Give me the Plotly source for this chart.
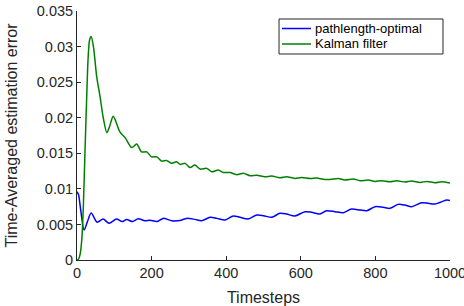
import plotly.graph_objects as go

# ---- data ----
t_blue = [0, 4, 10, 19, 28, 38, 54, 70, 86, 106, 121, 133, 149, 164, 182, 196, 214, 231,
          254, 276, 294, 316, 334, 357, 375, 397, 419, 437, 459, 482, 500, 522, 544, 562,
          584, 611, 629, 651, 669, 692, 714, 736, 759, 777, 799, 821, 839, 861, 879, 897,
          924, 942, 960, 991, 1000]
v_blue = [0.0096, 0.0092, 0.0070, 0.0042, 0.0054, 0.0066, 0.0053, 0.00576, 0.00515, 0.00576,
          0.0054, 0.0057, 0.0054, 0.0058, 0.00552, 0.0056, 0.0054, 0.00585, 0.00552, 0.00556,
          0.00585, 0.00571, 0.00552, 0.0060, 0.00585, 0.00562, 0.00618, 0.0060, 0.00576,
          0.00632, 0.00623, 0.0060, 0.00656, 0.00646, 0.00618, 0.00679, 0.0067, 0.00648,
          0.00693, 0.00679, 0.00665, 0.00716, 0.00702, 0.00693, 0.00749, 0.0074, 0.00726,
          0.00782, 0.00772, 0.00749, 0.00805, 0.00796, 0.00786, 0.00843, 0.00836]

t_green = [0, 5, 9, 13, 17, 21, 26, 30, 34, 38, 44, 53, 62, 70, 80, 87, 97, 106, 115, 129,
           147, 160, 173, 187, 200, 214, 227, 240, 254, 267, 276, 290, 303, 316, 330, 348,
           361, 379, 392, 410, 428, 446, 464, 482, 504, 522, 544, 562, 584, 602, 625, 643,
           660, 678, 701, 718, 741, 759, 781, 799, 817, 839, 857, 879, 897, 920, 938, 960,
           978, 1000]
v_green = [0.0, 0.0002, 0.0010, 0.0030, 0.0075, 0.0145, 0.0229, 0.0286, 0.0310, 0.0314,
           0.0300, 0.0257, 0.0229, 0.0201, 0.0179, 0.0187, 0.0202, 0.0192, 0.0180, 0.0172,
           0.0158, 0.0163, 0.0152, 0.0152, 0.0145, 0.0145, 0.0139, 0.0140, 0.0136, 0.0138,
           0.01344, 0.01358, 0.0130, 0.01334, 0.01278, 0.01288, 0.0124, 0.01264, 0.0123,
           0.0123, 0.0120, 0.0122, 0.01184, 0.0119, 0.0117, 0.0118, 0.01156, 0.0117, 0.01147,
           0.0116, 0.01145, 0.01152, 0.01136, 0.01133, 0.01147, 0.01124, 0.01138, 0.01114,
           0.01124, 0.01105, 0.01114, 0.0110, 0.01114, 0.01096, 0.0111, 0.01091, 0.01105,
           0.01086, 0.0110, 0.01081]

x_ticks = [0, 200, 400, 600, 800, 1000]
y_ticks = [0, 0.005, 0.01, 0.015, 0.02, 0.025, 0.03, 0.035]
y_tick_text = ["0", "0.005", "0.01", "0.015", "0.02", "0.025", "0.03", "0.035"]

series_names = ["pathlength-optimal", "Kalman filter"]
series_colors = ["#0000ff", "#008000"]

AX = "#262626"
FONT = "Liberation Sans, Arial, sans-serif"

fig = go.Figure()
fig.add_trace(go.Scatter(x=t_blue, y=v_blue, mode="lines", name=series_names[0],
                         line=dict(color=series_colors[0], width=1.5, shape="spline",
                                   smoothing=0.8)))
fig.add_trace(go.Scatter(x=t_green, y=v_green, mode="lines", name=series_names[1],
                         line=dict(color=series_colors[1], width=1.5, shape="spline",
                                   smoothing=0.8)))

# compact MATLAB-style legend box (paper coordinates of the plot area)
box_x0, box_x1, box_y0, box_y1 = 0.5416, 0.9812, 0.8273, 0.9679
row_y = [0.9297, 0.8675]
sample_x0, sample_x1, text_x = 0.5496, 0.6273, 0.6327

shapes = [dict(type="rect", xref="paper", yref="paper", x0=box_x0, x1=box_x1,
               y0=box_y0, y1=box_y1, line=dict(color=AX, width=1), fillcolor="white",
               layer="above")]
annotations = []
for name, col, ry in zip(series_names, series_colors, row_y):
    shapes.append(dict(type="line", xref="paper", yref="paper", x0=sample_x0, x1=sample_x1,
                       y0=ry, y1=ry, line=dict(color=col, width=1.5), layer="above"))
    annotations.append(dict(xref="paper", yref="paper", x=text_x, y=ry, text=name,
                            showarrow=False, xanchor="left", yanchor="middle",
                            font=dict(size=13, color="#000000", family=FONT)))

fig.update_layout(
    width=464, height=306,
    margin=dict(l=77, r=14, t=11, b=46),
    paper_bgcolor="white", plot_bgcolor="white",
    font=dict(family=FONT, color=AX, size=14),
    showlegend=False,
    shapes=shapes,
    annotations=annotations,
    xaxis=dict(range=[0, 1000], tickvals=x_ticks, ticks="inside", ticklen=4,
               tickcolor=AX, showline=True, linecolor=AX, linewidth=1,
               showgrid=False, zeroline=False, mirror=False, automargin=False,
               ticklabeloverflow="allow",
               tickfont=dict(size=14.5, color=AX),
               title=dict(text="Timesteps", font=dict(size=16, color=AX))),
    yaxis=dict(range=[0, 0.035], tickvals=y_ticks, ticktext=y_tick_text, ticks="inside",
               ticklen=4, tickcolor=AX, showline=True, linecolor=AX, linewidth=1,
               showgrid=False, zeroline=False, mirror=False, automargin=False,
               tickfont=dict(size=14.5, color=AX),
               title=dict(text="Time-Averaged estimation error",
                          font=dict(size=16, color=AX))),
)

fig.write_html(
    "out.html",
    config={"displayModeBar": False},
    post_script="document.body.style.margin='0';document.body.style.overflow='hidden';",
)
